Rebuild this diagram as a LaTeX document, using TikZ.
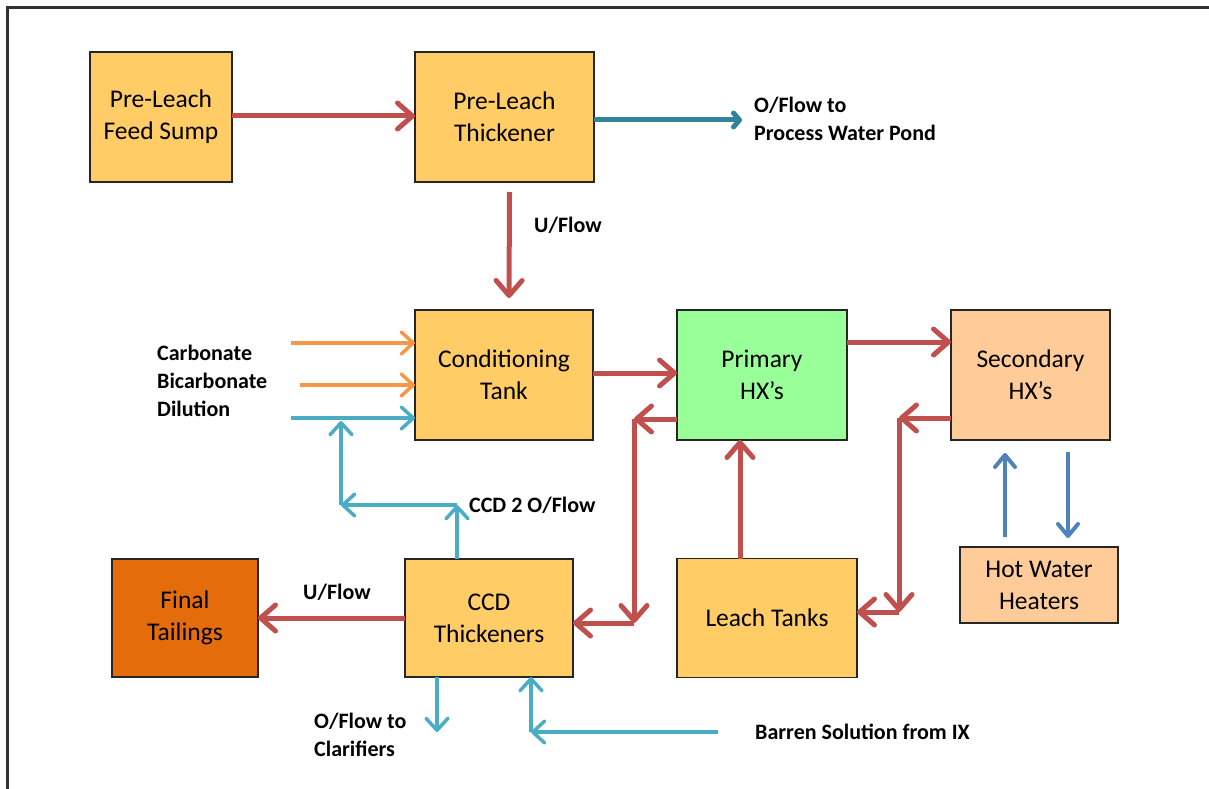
\documentclass[tikz,border=0pt]{standalone}
\usepackage{fontspec}
\setmainfont{Carlito}
\usetikzlibrary{arrows.meta}
\definecolor{redc}{HTML}{C0504D}
\definecolor{tealc}{HTML}{31849B}
\definecolor{orangec}{HTML}{F79646}
\definecolor{cyanc}{HTML}{4BACC6}
\definecolor{bluec}{HTML}{4F81BD}
\definecolor{boxyellow}{HTML}{FFCC66}
\definecolor{boxgreen}{HTML}{99FF99}
\definecolor{boxpeach}{HTML}{FFCC99}
\definecolor{boxdorange}{HTML}{E46C0A}
\begin{document}
\begin{tikzpicture}[x=1pt,y=-1pt,
  box/.style={draw=black!85,line width=1.3pt,rectangle,inner sep=0pt,outer sep=0pt,
    align=center,font=\fontsize{25.5}{32}\selectfont},
  lbl/.style={font=\bfseries\fontsize{22}{28}\selectfont,align=left,inner sep=0pt,anchor=west},
  redarr/.style={draw=redc,line width=5pt,-{Straight Barb[length=15pt,width=26pt,round]}},
  tealarr/.style={draw=tealc,line width=5pt,-{Straight Barb[length=6pt,width=14pt,round]}},
  orarr/.style={draw=orangec,line width=3.5pt,-{Straight Barb[length=12pt,width=22pt,round]}},
  cyanarr/.style={draw=cyanc,line width=3.5pt,-{Straight Barb[length=12pt,width=22pt,round]}},
  bluearr/.style={draw=bluec,line width=4pt,-{Straight Barb[length=12pt,width=20pt,round]}}
]
\useasboundingbox (0,0) rectangle (1209,789);
\draw[line width=3pt,draw=black!80] (7,789) -- (7,8) -- (1209,8);

% boxes
\node[box,fill=boxyellow,minimum width=142pt,minimum height=130pt] (sump) at (161,117) {Pre-Leach\\Feed Sump};
\node[box,fill=boxyellow,minimum width=179pt,minimum height=130pt] (thick) at (504.5,117) {Pre-Leach\\Thickener};
\node[box,fill=boxyellow,minimum width=178pt,minimum height=130pt] (cond) at (504,375) {Conditioning\\Tank};
\node[box,fill=boxgreen,minimum width=170pt,minimum height=130pt] (prim) at (762,375) {Primary\\HX’s};
\node[box,fill=boxpeach,minimum width=159pt,minimum height=130pt] (sec) at (1030.5,375) {Secondary\\HX’s};
\node[box,fill=boxyellow,minimum width=180pt,minimum height=119pt] (leach) at (767,618) {Leach Tanks};
\node[box,fill=boxpeach,minimum width=158pt,minimum height=76pt] (hot) at (1039,585) {Hot Water\\Heaters};
\node[box,fill=boxyellow,minimum width=168pt,minimum height=118pt] (ccd) at (489,618) {CCD\\Thickeners};
\node[box,fill=boxdorange,minimum width=146pt,minimum height=118pt] (final) at (185,618) {Final\\Tailings};

% top row
\draw[redarr] (sump.east |- 0,116) -- (thick.west |- 0,116);
\coordinate (pw) at (742,120);
\draw[tealarr] (thick.east |- pw) -- (pw);
\node[lbl] (lpw) at (754,119) {O/Flow to\\Process Water Pond};
\draw[redarr] ([xshift=5pt,yshift=-10pt]thick.south) -- ([xshift=5pt,yshift=12pt]cond.north);
\node[lbl] (lu1) at (534,225) {U/Flow};

% reagents
\coordinate (ca) at (291,343);
\coordinate (bi) at (300,385);
\coordinate (di) at (291,418);
\draw[orarr] (ca) -- (cond.west |- ca);
\draw[orarr] (bi) -- (cond.west |- bi);
\draw[cyanarr] (di) -- (cond.west |- di);
\node[lbl] (lreag) at (157,381) {Carbonate\\Bicarbonate\\Dilution};

% conditioning -> primary -> secondary
\draw[redarr] (cond.east |- 0,373) -- (prim.west |- 0,373);
\draw[redarr] (prim.east |- 0,342) -- (sec.west |- 0,342);

% primary return
\coordinate (c1) at (634,419);
\coordinate (c2) at (634,623);
\draw[redarr] (prim.west |- c1) -- (c1);
\draw[redarr] (c1) -- (c2);
\draw[redarr] (c2) -- (ccd.east |- c2);

% secondary return
\coordinate (d1) at (899,418);
\coordinate (d2) at (899,612);
\draw[redarr] (sec.west |- d1) -- (d1);
\draw[redarr] (d1) -- (d2);
\draw[redarr] (d2) -- (leach.east |- d2);

% leach -> primary
\coordinate (lx) at (740,0);
\draw[redarr] (leach.north -| lx) -- (prim.south -| lx);

% hot water
\coordinate (h1) at (1005,537);
\coordinate (h2) at (1005,453);
\coordinate (h3) at (1068,452);
\coordinate (h4) at (1068,538);
\draw[bluearr] (h1) -- (h2);
\draw[bluearr] (h3) -- (h4);

% CCD 2 overflow
\coordinate (e1) at (457,505);
\coordinate (e2) at (341,505);
\coordinate (e3) at (341,421);
\draw[cyanarr] (ccd.north -| e1) -- (e1);
\draw[cyanarr] (e1) -- (e2);
\draw[cyanarr] (e2) -- (e3);
\node[lbl] (lccd2) at (469,505) {CCD 2 O/Flow};

% CCD -> final tailings
\draw[redarr] (ccd.west) -- (final.east);
\node[lbl] (lu2) at (303,592) {U/Flow};

% CCD overflow to clarifiers
\coordinate (f1) at (437,732);
\draw[cyanarr] (ccd.south -| f1) -- (f1);
\node[lbl] (lcl) at (314,735) {O/Flow to\\Clarifiers};

% barren solution
\coordinate (b0) at (718,732);
\coordinate (b1) at (531,732);
\draw[cyanarr] (b0) -- (b1);
\draw[cyanarr] (b1) -- (ccd.south -| b1);
\node[lbl] (lbar) at (755,732) {Barren Solution from IX};
\end{tikzpicture}
\end{document}
